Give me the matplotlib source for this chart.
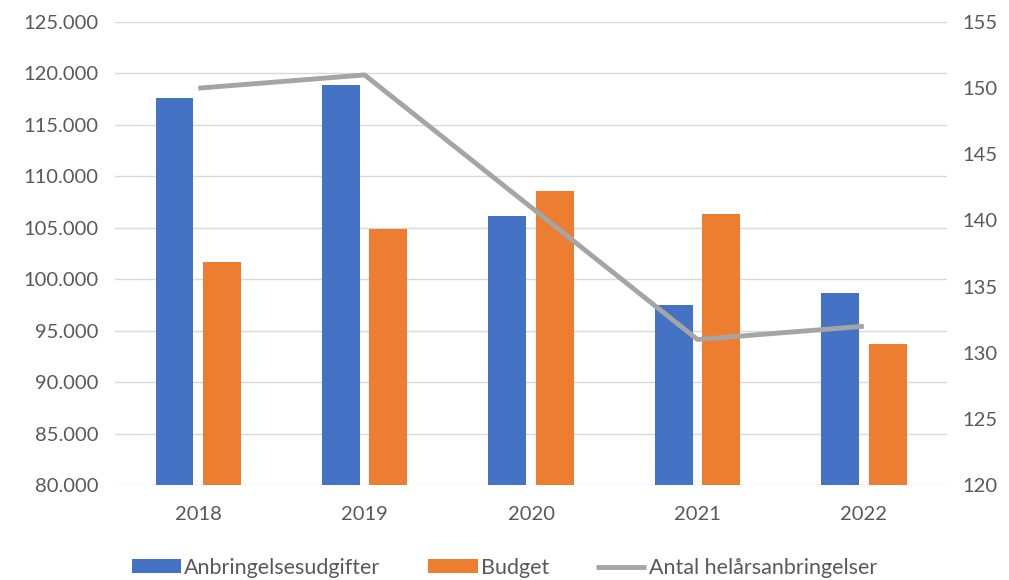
import matplotlib

matplotlib.use("Agg")

import matplotlib.pyplot as plt
from matplotlib.ticker import FuncFormatter
import numpy as np

years = ["2018", "2019", "2020", "2021", "2022"]
udgifter = [117600, 118900, 106100, 97500, 98700]
budget = [101700, 104900, 108600, 106300, 93700]
helaars = [150, 151, 141, 131, 132]

BLUE = "#4472C4"
ORANGE = "#ED7D31"
GRAY = "#A5A5A5"
GRID = "#D9D9D9"
TEXT = "#595959"

plt.rcParams["font.family"] = ["Lato", "DejaVu Sans"]

fig = plt.figure(figsize=(10.09, 5.8), dpi=100)
ax = fig.add_axes([0.114, 0.1638, 0.8246, 0.7982])
ax2 = ax.twinx()

x = np.arange(len(years))
width = 0.228
offset = 0.1426
b1 = ax.bar(x - offset, udgifter, width, color=BLUE, label="Anbringelsesudgifter", zorder=3)
b2 = ax.bar(x + offset, budget, width, color=ORANGE, label="Budget", zorder=3)
(l1,) = ax2.plot(x, helaars, color=GRAY, linewidth=3.5, label="Antal helårsanbringelser",
                 solid_capstyle="butt", zorder=4)

ax.set_xlim(-0.5, len(years) - 0.5)
ax.set_ylim(80000, 125000)
ax.set_yticks(np.arange(80000, 125001, 5000))
ax.yaxis.set_major_formatter(FuncFormatter(lambda v, _: f"{v:,.0f}".replace(",", ".")))
ax2.set_ylim(120, 155)
ax2.set_yticks(np.arange(120, 156, 5))

ax.set_xticks(x)
ax.set_xticklabels(years)
ax.grid(True, axis="y", color=GRID, linewidth=1, zorder=0)
ax.set_axisbelow(True)

for a in (ax, ax2):
    for s in a.spines.values():
        s.set_visible(False)
    a.tick_params(length=0, labelsize=14.5, colors=TEXT)
ax.tick_params(axis="y", pad=12)
ax2.tick_params(axis="y", pad=11)
ax.tick_params(axis="x", pad=15)

fig.legend(handles=[b1, b2, l1], loc="center", ncol=3, frameon=False,
           fontsize=15.5, bbox_to_anchor=(0.5, 0.021), handlelength=2.3,
           handleheight=0.6, handletextpad=0.15, columnspacing=2.2, labelcolor=TEXT)

fig.savefig("out.png", dpi=100)
